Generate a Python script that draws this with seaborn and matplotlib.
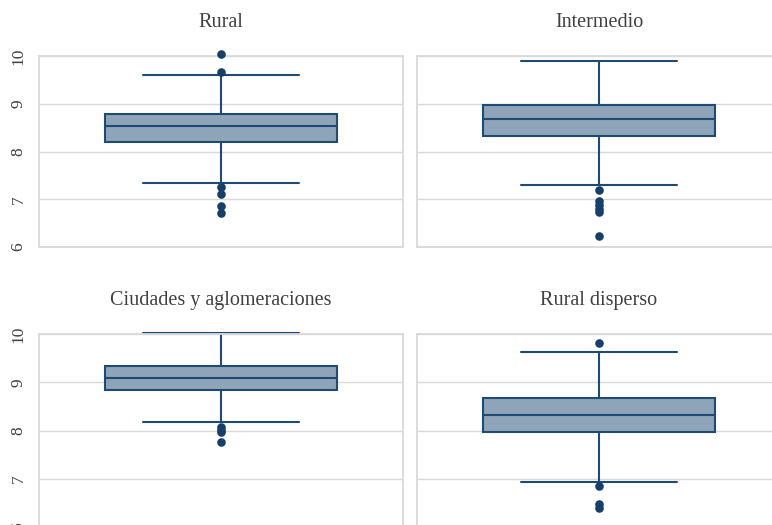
import pandas as pd
import seaborn as sns
import matplotlib.pyplot as plt

# Panels (order: top-left, top-right, bottom-left, bottom-right)
regions = ['Rural', 'Intermedio', 'Ciudades y aglomeraciones', 'Rural disperso']

# Five-number summary: lower whisker, Q1, median, Q3, upper whisker
rural = [7.35, 8.19, 8.54, 8.79, 9.61]
intermedio = [7.30, 8.32, 8.69, 8.97, 9.90]
ciudades = [8.17, 8.83, 9.08, 9.33, 10.03]
disperso = [6.94, 7.96, 8.33, 8.67, 9.62]

# Outliers (points beyond the whiskers)
rural_out = [10.05, 9.67, 7.25, 7.11, 6.85, 6.71]
intermedio_out = [7.19, 6.96, 6.88, 6.80, 6.73, 6.22]
ciudades_out = [8.08, 8.02, 7.97, 7.76]
disperso_out = [9.81, 6.84, 6.47, 6.40]

y_ticks = [6, 7, 8, 9, 10]

summaries = [rural, intermedio, ciudades, disperso]
outliers = [rural_out, intermedio_out, ciudades_out, disperso_out]

box_df = pd.concat([pd.DataFrame({'region': r, 'valor': v}) for r, v in zip(regions, summaries)])
out_df = pd.concat([pd.DataFrame({'region': r, 'valor': v}) for r, v in zip(regions, outliers)])

# ==========================================
# STYLE
# ==========================================
sns.set_style('white')
plt.rcParams['font.family'] = ['Liberation Serif', 'DejaVu Serif']

fill_color = '#8DA4B9'
line_color = '#1F4A73'
dot_color = '#173F69'
grid_color = '#D9D9D9'
text_color = '#404040'

W, H = 772, 525
fig = plt.figure(figsize=(W / 100, H / 100), dpi=100)

# axes boxes in pixels: left, top, right, bottom
boxes = [(39, 56, 403, 247), (417, 56, 781, 247),
         (39, 334, 403, 527), (417, 334, 781, 527)]

for i, region in enumerate(regions):
    l, t, r, b = boxes[i]
    ax = fig.add_axes([l / W, 1 - b / H, (r - l) / W, (b - t) / H])

    sub_box = box_df[box_df['region'] == region]
    sub_out = out_df[out_df['region'] == region]

    sns.boxplot(data=sub_box, x='region', y='valor', whis=(0, 100), width=0.64,
                color=fill_color, linecolor=line_color, linewidth=1.5,
                saturation=1, capwidths=0.43, ax=ax)
    sns.stripplot(data=sub_out, x='region', y='valor', jitter=False, color=dot_color,
                  size=6.2, linewidth=0, ax=ax)

    for art in ax.lines + ax.collections + ax.patches:
        art.set_clip_on(False)

    ax.set_xlim(-0.5, 0.5)
    ax.set_ylim(6, 10)
    ax.set_yticks(y_ticks)
    ax.set_xticks([])
    ax.set_xlabel('')
    ax.set_ylabel('')

    ax.grid(True, axis='y', color=grid_color, linewidth=1.0)
    ax.set_axisbelow(True)
    for s in ax.spines.values():
        s.set_color(grid_color)
        s.set_linewidth(1.3)

    ax.tick_params(axis='y', length=0, pad=9, labelsize=12.5, labelcolor=text_color)
    if i % 2 == 1:
        ax.set_yticklabels([])
    else:
        for lab in ax.get_yticklabels():
            lab.set_rotation(90)
            lab.set_va('center')

    ax.set_title(region, fontsize=14.5, color=text_color, pad=21)

fig.savefig('out.png', dpi=100)
